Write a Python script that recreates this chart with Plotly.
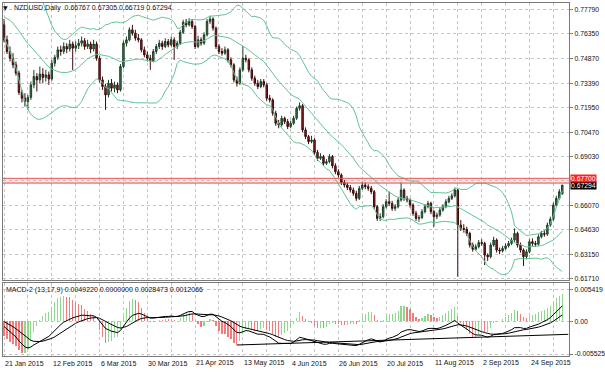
import plotly.graph_objects as go
import pandas as pd
import numpy as np

# ---------------- data (NZDUSD daily, 21 Jan 2015 .. 9 Oct 2015) ----------------
prior_closes = [0.7700, 0.7740, 0.7780, 0.7800, 0.7810, 0.7790, 0.7760, 0.7730, 0.7700, 0.7740,
                0.7780, 0.7800, 0.7820, 0.7790, 0.7760, 0.7700, 0.7680, 0.7650, 0.7620]

open_ = [
0.7690,0.7600,0.7530,0.7490,0.7450,0.7400,0.7285,0.7250,0.7230,0.7255,
0.7330,0.7380,0.7360,0.7395,0.7375,0.7390,0.7365,0.7460,0.7495,0.7540,
0.7530,0.7560,0.7545,0.7575,0.7550,0.7565,0.7580,0.7595,0.7560,0.7575,
0.7545,0.7575,0.7490,0.7360,0.7320,0.7270,0.7340,0.7310,0.7330,0.7300,
0.7440,0.7580,0.7600,0.7660,0.7640,0.7610,0.7600,0.7540,0.7510,0.7490,
0.7475,0.7530,0.7560,0.7580,0.7560,0.7590,0.7570,0.7600,0.7560,0.7580,
0.7645,0.7705,0.7690,0.7710,0.7680,0.7560,0.7600,0.7580,0.7630,0.7710,
0.7725,0.7670,0.7560,0.7530,0.7520,0.7540,0.7480,0.7450,0.7360,0.7340,
0.7420,0.7490,0.7480,0.7420,0.7370,0.7340,0.7320,0.7350,0.7330,0.7250,
0.7240,0.7160,0.7100,0.7090,0.7130,0.7110,0.7080,0.7100,0.7130,0.7190,
0.7205,0.7060,0.7020,0.6990,0.7000,0.6925,0.6890,0.6900,0.6860,0.6870,
0.6900,0.6845,0.6810,0.6790,0.6745,0.6730,0.6715,0.6700,0.6680,0.6650,
0.6710,0.6730,0.6720,0.6710,0.6690,0.6600,0.6530,0.6540,0.6600,0.6630,
0.6620,0.6590,0.6600,0.6640,0.6700,0.6650,0.6640,0.6610,0.6560,0.6530,
0.6535,0.6570,0.6600,0.6620,0.6570,0.6540,0.6550,0.6580,0.6600,0.6630,
0.6650,0.6665,0.6700,0.6490,0.6470,0.6465,0.6440,0.6370,0.6345,0.6360,
0.6385,0.6380,0.6310,0.6300,0.6370,0.6400,0.6340,0.6335,0.6350,0.6365,
0.6380,0.6400,0.6440,0.6370,0.6340,0.6300,0.6330,0.6390,0.6380,0.6375,
0.6420,0.6440,0.6435,0.6490,0.6525,0.6610,0.6650,0.66767]

high = [
0.7725,0.7625,0.7560,0.7520,0.7470,0.7415,0.7300,0.7280,0.7270,0.7350,
0.7420,0.7400,0.7440,0.7430,0.7420,0.7410,0.7480,0.7510,0.7560,0.7565,
0.7585,0.7580,0.7600,0.7590,0.7590,0.7605,0.7620,0.7610,0.7600,0.7590,
0.7600,0.7590,0.7505,0.7380,0.7335,0.7360,0.7365,0.7350,0.7345,0.7455,
0.7595,0.7620,0.7675,0.7690,0.7660,0.7635,0.7610,0.7560,0.7530,0.7510,
0.7545,0.7575,0.7600,0.7595,0.7610,0.7605,0.7620,0.7615,0.7595,0.7660,
0.7720,0.7725,0.7730,0.7725,0.7690,0.7625,0.7615,0.7645,0.7725,0.7745,
0.7735,0.7680,0.7575,0.7550,0.7560,0.7550,0.7495,0.7460,0.7380,0.7435,
0.7560,0.7510,0.7490,0.7435,0.7385,0.7360,0.7365,0.7365,0.7340,0.7270,
0.7250,0.7175,0.7120,0.7145,0.7140,0.7125,0.7115,0.7145,0.7200,0.7225,
0.7215,0.7075,0.7030,0.7025,0.7010,0.6940,0.6920,0.6910,0.6885,0.6915,
0.6910,0.6860,0.6825,0.6800,0.6760,0.6745,0.6730,0.6715,0.6695,0.6725,
0.6750,0.6745,0.6735,0.6725,0.6700,0.6610,0.6560,0.6615,0.6645,0.6690,
0.6635,0.6615,0.6655,0.6745,0.6710,0.6665,0.6650,0.6620,0.6575,0.6550,
0.6585,0.6615,0.6635,0.6630,0.6580,0.6565,0.6595,0.6615,0.6645,0.6665,
0.6680,0.6715,0.6705,0.6520,0.6495,0.6480,0.6450,0.6385,0.6375,0.6400,
0.6405,0.6390,0.6320,0.6385,0.6420,0.6410,0.6355,0.6365,0.6380,0.6395,
0.6415,0.6470,0.6450,0.6385,0.6350,0.6345,0.6405,0.6410,0.6395,0.6435,
0.6455,0.6460,0.6505,0.6540,0.6625,0.6665,0.6705,0.67305]

low = [
0.7585,0.7515,0.7470,0.7430,0.7385,0.7270,0.7225,0.7200,0.7180,0.7240,
0.7310,0.7290,0.7340,0.7340,0.7350,0.7330,0.7355,0.7440,0.7480,0.7505,
0.7515,0.7520,0.7530,0.7420,0.7530,0.7545,0.7560,0.7540,0.7545,0.7520,
0.7530,0.7475,0.7345,0.7300,0.7180,0.7255,0.7290,0.7285,0.7280,0.7290,
0.7430,0.7560,0.7590,0.7625,0.7595,0.7585,0.7525,0.7495,0.7470,0.7420,
0.7465,0.7515,0.7545,0.7540,0.7550,0.7555,0.7560,0.7480,0.7545,0.7570,
0.7635,0.7675,0.7680,0.7665,0.7545,0.7550,0.7565,0.7570,0.7620,0.7695,
0.7655,0.7545,0.7515,0.7505,0.7510,0.7465,0.7435,0.7345,0.7320,0.7330,
0.7410,0.7465,0.7405,0.7355,0.7325,0.7305,0.7310,0.7315,0.7235,0.7225,
0.7145,0.7085,0.7070,0.7080,0.7095,0.7065,0.7070,0.7090,0.7120,0.7175,
0.7045,0.7005,0.6975,0.6980,0.6910,0.6875,0.6880,0.6845,0.6850,0.6860,
0.6830,0.6795,0.6775,0.6730,0.6715,0.6700,0.6685,0.6665,0.6635,0.6640,
0.6700,0.6705,0.6695,0.6675,0.6585,0.6515,0.6515,0.6530,0.6590,0.6605,
0.6575,0.6575,0.6590,0.6630,0.6635,0.6625,0.6595,0.6545,0.6515,0.6510,
0.6525,0.6560,0.6590,0.6555,0.6480,0.6525,0.6540,0.6570,0.6590,0.6620,
0.6640,0.6655,0.6180,0.6455,0.6445,0.6425,0.6355,0.6330,0.6335,0.6350,
0.6365,0.6250,0.6275,0.6290,0.6360,0.6325,0.6315,0.6325,0.6340,0.6355,
0.6370,0.6390,0.6355,0.6325,0.6245,0.6285,0.6320,0.6365,0.6360,0.6365,
0.6410,0.6420,0.6425,0.6480,0.6515,0.6600,0.6640,0.66719]

close = [
0.7600,0.7530,0.7490,0.7450,0.7400,0.7285,0.7250,0.7230,0.7255,0.7330,
0.7380,0.7360,0.7395,0.7375,0.7390,0.7365,0.7460,0.7495,0.7540,0.7530,
0.7560,0.7545,0.7575,0.7550,0.7565,0.7580,0.7595,0.7560,0.7575,0.7545,
0.7575,0.7490,0.7360,0.7320,0.7270,0.7340,0.7310,0.7330,0.7300,0.7440,
0.7580,0.7600,0.7660,0.7640,0.7610,0.7600,0.7540,0.7510,0.7490,0.7475,
0.7530,0.7560,0.7580,0.7560,0.7590,0.7570,0.7600,0.7560,0.7580,0.7645,
0.7705,0.7690,0.7710,0.7680,0.7560,0.7600,0.7580,0.7630,0.7710,0.7725,
0.7670,0.7560,0.7530,0.7520,0.7540,0.7480,0.7450,0.7360,0.7340,0.7420,
0.7490,0.7480,0.7420,0.7370,0.7340,0.7320,0.7350,0.7330,0.7250,0.7240,
0.7160,0.7100,0.7090,0.7130,0.7110,0.7080,0.7100,0.7130,0.7190,0.7205,
0.7060,0.7020,0.6990,0.7000,0.6925,0.6890,0.6900,0.6860,0.6870,0.6900,
0.6845,0.6810,0.6790,0.6745,0.6730,0.6715,0.6700,0.6680,0.6650,0.6710,
0.6730,0.6720,0.6710,0.6690,0.6600,0.6530,0.6540,0.6600,0.6630,0.6620,
0.6590,0.6600,0.6640,0.6700,0.6650,0.6640,0.6610,0.6560,0.6530,0.6535,
0.6570,0.6600,0.6620,0.6570,0.6540,0.6550,0.6580,0.6600,0.6630,0.6650,
0.6665,0.6700,0.6490,0.6470,0.6465,0.6440,0.6370,0.6345,0.6360,0.6385,
0.6380,0.6310,0.6300,0.6370,0.6400,0.6340,0.6335,0.6350,0.6365,0.6380,
0.6400,0.6440,0.6370,0.6340,0.6300,0.6330,0.6390,0.6380,0.6375,0.6420,
0.6440,0.6435,0.6490,0.6525,0.6610,0.6650,0.6690,0.67294]

date_labels = ["21 Jan 2015", "12 Feb 2015", "6 Mar 2015", "30 Mar 2015", "21 Apr 2015",
               "13 May 2015", "4 Jun 2015", "26 Jun 2015", "20 Jul 2015", "11 Aug 2015",
               "2 Sep 2015", "24 Sep 2015"]
date_label_bars = [0, 16, 32, 48, 64, 80, 96, 112, 128, 144, 160, 176]

price_ticks = [0.7779, 0.7635, 0.7487, 0.7339, 0.7195, 0.7047, 0.6903, 0.6755,
               0.6607, 0.6463, 0.6315, 0.6171]
macd_ticks = [0.005419, 0.0, -0.005525]
macd_tick_text = ["0.005419", "0.00", "-0.005525"]

level_lines = [0.6770, 0.6742]          # red horizontal levels
level_zone = [0.6736, 0.6770]           # shaded zone between them
last_price = 0.67294

trend_bars = [78, 189]                  # trend line drawn on MACD window
trend_vals = [-0.0040, -0.0022]

header_text = "NZDUSD,Daily  0.66767 0.67305 0.66719 0.67294"
macd_header = "MACD-2 (13,17,9) 0.0049220 0.0000000 0.0028473 0.0012066"

assert len(open_) == len(high) == len(low) == len(close) == 188

# ---------------- indicators ----------------
n = len(close)
bars = list(range(n))
full = pd.Series(prior_closes + close)
mid = full.rolling(20).mean()
sd = full.rolling(20).std(ddof=0)
bb_mid = mid.iloc[-n:].tolist()
bb_up = (mid + 2 * sd).iloc[-n:].tolist()
bb_lo = (mid - 2 * sd).iloc[-n:].tolist()

ema13 = full.ewm(span=13, adjust=False).mean()
ema17 = full.ewm(span=17, adjust=False).mean()
macd = ema13 - ema17
signal = macd.ewm(span=9, adjust=False).mean()
hist = 3 * (macd - signal)
macd_v = macd.iloc[-n:].tolist()
sig_v = signal.iloc[-n:].tolist()
hist_v = hist.iloc[-n:].tolist()
hist_prev = hist.iloc[-n - 1:-1].tolist()
hist_col = ['#8ed88e' if h >= p else '#f07c7c' for h, p in zip(hist_v, hist_prev)]

# ---------------- geometry ----------------
W, H = 605, 373
def px_x(p):
    return p / W
def px_y(p):
    return 1 - p / H

XDOM = [px_x(3), px_x(572)]
Y1DOM = [px_y(281), px_y(3)]
Y2DOM = [px_y(357), px_y(284)]
FONT = "Liberation Sans, Arial, sans-serif"
FS = 7
AFS = 6.8
GRID = '#c4c4c4'
FRAME = '#7a7a7a'
TXT = '#111111'

fig = go.Figure()

fig.add_trace(go.Candlestick(
    x=bars, open=open_, high=high, low=low, close=close,
    xaxis='x', yaxis='y', whiskerwidth=0,
    increasing=dict(line=dict(color='#1d3f28', width=1), fillcolor='#3f7a52'),
    decreasing=dict(line=dict(color='#3a0c0c', width=1), fillcolor='#9a2222'),
    showlegend=False, hoverinfo='skip'))

for band in (bb_up, bb_mid, bb_lo):
    fig.add_trace(go.Scatter(x=bars, y=band, mode='lines', xaxis='x', yaxis='y',
                             line=dict(color='#62c294', width=1),
                             showlegend=False, hoverinfo='skip'))

# MACD panel
fig.add_trace(go.Bar(x=bars, y=hist_v, xaxis='x2', yaxis='y2', width=0.4,
                     marker=dict(color=hist_col, line=dict(width=0)),
                     showlegend=False, hoverinfo='skip'))
fig.add_trace(go.Scatter(x=bars, y=macd_v, mode='lines', xaxis='x2', yaxis='y2',
                         line=dict(color='#000000', width=1), showlegend=False, hoverinfo='skip'))
fig.add_trace(go.Scatter(x=bars, y=sig_v, mode='lines', xaxis='x2', yaxis='y2',
                         line=dict(color='#000000', width=1), showlegend=False, hoverinfo='skip'))
fig.add_trace(go.Scatter(x=trend_bars, y=trend_vals, mode='lines', xaxis='x2', yaxis='y2',
                         line=dict(color='#000000', width=1), showlegend=False, hoverinfo='skip'))

shapes = [dict(type='rect', xref='x domain', yref='y', x0=0, x1=1,
               y0=level_zone[0], y1=level_zone[1], fillcolor='rgba(240,120,120,0.22)',
               line=dict(width=0), layer='below')]
for lv in level_lines:
    shapes.append(dict(type='line', xref='x domain', yref='y', x0=0, x1=1, y0=lv, y1=lv,
                       line=dict(color='#e05a5a', width=1)))

annotations = []
for lab, b in zip(date_labels, date_label_bars):
    annotations.append(dict(x=b - 0.3, xref='x2', y=px_y(364), yref='paper', text=lab,
                            showarrow=False, xanchor='left', yanchor='middle',
                            font=dict(family=FONT, size=FS, color=TXT)))
annotations.append(dict(x=px_x(1), y=px_y(8), xref='paper', yref='paper', text='▼',
                        showarrow=False, xanchor='left', yanchor='middle',
                        font=dict(family="DejaVu Sans", size=6, color=TXT)))
annotations.append(dict(x=px_x(12), y=px_y(8), xref='paper', yref='paper', text=header_text,
                        showarrow=False, xanchor='left', yanchor='middle',
                        font=dict(family=FONT, size=FS, color=TXT)))
annotations.append(dict(x=px_x(4), y=px_y(291), xref='paper', yref='paper', text=macd_header,
                        showarrow=False, xanchor='left', yanchor='middle',
                        font=dict(family=FONT, size=FS, color=TXT)))
annotations.append(dict(x=px_x(573), y=last_price, xref='paper', yref='y',
                        text=f"{last_price:.5f}", showarrow=False, xanchor='left',
                        yanchor='middle', bgcolor='#000000', borderpad=0,
                        font=dict(family=FONT, size=AFS, color='#ffffff')))
annotations.append(dict(x=px_x(573), y=level_lines[0], xref='paper', yref='y',
                        text=f"{level_lines[0]:.5f}", showarrow=False, xanchor='left',
                        yanchor='middle', bgcolor='#ff2020', borderpad=0,
                        font=dict(family=FONT, size=AFS, color='#ffffff')))

price_text = [("" if abs(v - 0.6755) < 1e-9 else f"{v:.5f}") for v in price_ticks]

axis_common = dict(showline=True, mirror=True, linecolor=FRAME, linewidth=1,
                   zeroline=False, showgrid=True, gridcolor=GRID, griddash='dot',
                   fixedrange=True)

fig.update_layout(
    width=W, height=H, margin=dict(l=0, r=0, t=0, b=0, pad=0),
    paper_bgcolor='white', plot_bgcolor='white', showlegend=False,
    bargap=0, hovermode=False,
    xaxis=dict(domain=XDOM, anchor='y', range=[-0.35, 189.3], showticklabels=False,
               tick0=0, dtick=8, ticks='', rangeslider=dict(visible=False), **axis_common),
    yaxis=dict(domain=Y1DOM, anchor='x', range=[0.61592, 0.78208], side='right',
               tickvals=price_ticks, ticktext=price_text, ticks='outside', ticklen=3,
               tickcolor=FRAME, tickfont=dict(family=FONT, size=AFS, color=TXT),
               **axis_common),
    xaxis2=dict(domain=XDOM, anchor='y2', matches='x', showticklabels=False,
                tick0=0, dtick=8, ticks='', **axis_common),
    yaxis2=dict(domain=Y2DOM, anchor='x2', range=[-0.00586, 0.00641], side='right',
                tickvals=macd_ticks, ticktext=macd_tick_text, ticks='outside', ticklen=3,
                tickcolor=FRAME, tickfont=dict(family=FONT, size=AFS, color=TXT),
                **axis_common),
    shapes=shapes, annotations=annotations,
)

fig.write_html("out.html",
               config={'displayModeBar': False, 'staticPlot': True},
               post_script="document.body.style.margin='0px';"
                           "document.documentElement.style.overflow='hidden';")
